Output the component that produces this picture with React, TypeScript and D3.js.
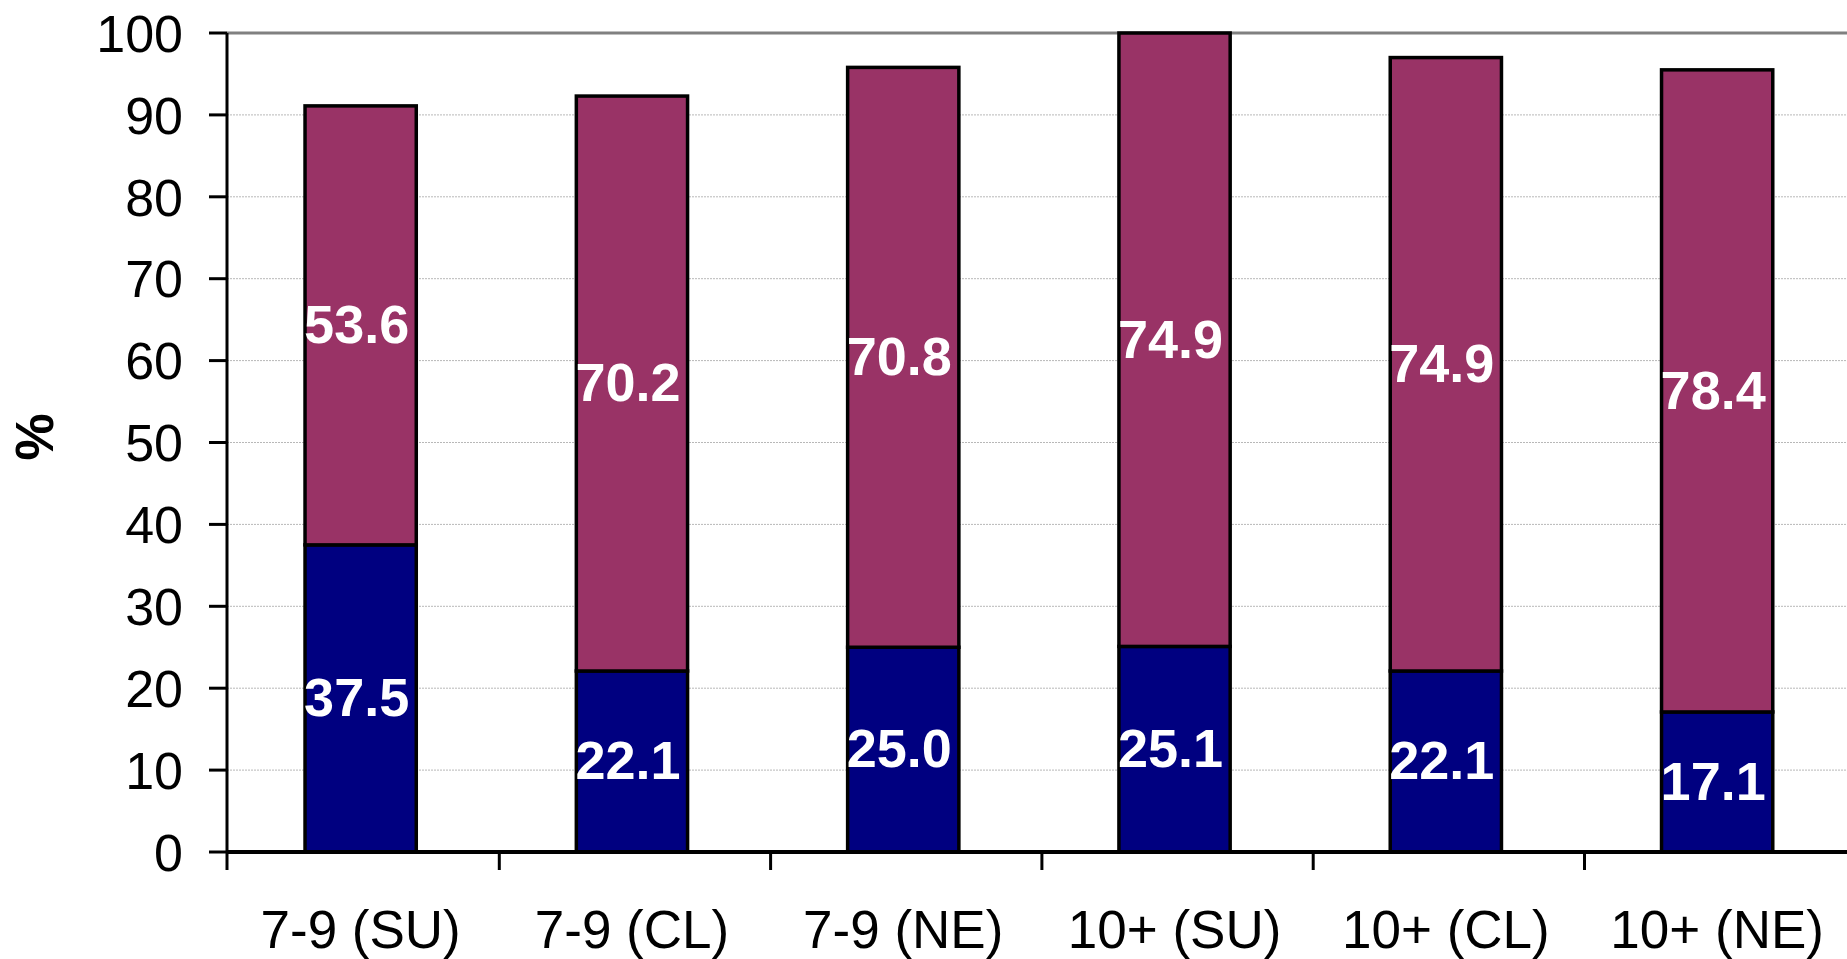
import React from "react";
import * as d3 from "d3";

const categories = ["7-9 (SU)", "7-9 (CL)", "7-9 (NE)", "10+ (SU)", "10+ (CL)", "10+ (NE)"];
const seriesBottom = [37.5, 22.1, 25.0, 25.1, 22.1, 17.1];
const seriesTop = [53.6, 70.2, 70.8, 74.9, 74.9, 78.4];
const yTicks = [0, 10, 20, 30, 40, 50, 60, 70, 80, 90, 100];
const yTitle = "%";

const W = 1847;
const H = 959;
const FONT = "'Liberation Sans', Arial, Helvetica, sans-serif";

export default function App() {
  const x = d3.scaleBand<string>().domain(categories).range([225, 225 + 6 * 271.3]).padding(0);
  const y = d3.scaleLinear().domain([0, 100]).range([852, 33]);
  const bw = x.bandwidth() * 0.41;
  const axisX = 227;

  const rows = categories.map((c, i) => ({
    c,
    b: seriesBottom[i],
    t: seriesTop[i],
  }));

  return (
    <svg
      width={W}
      height={H}
      style={{ position: "absolute", left: 0, top: 0, background: "#fff" }}
      fontFamily={FONT}
    >
      {/* gridlines */}
      {yTicks.filter((t) => t > 0 && t < 100).map((t) => (
        <line
          key={"g" + t}
          x1={axisX}
          x2={W}
          y1={y(t)}
          y2={y(t)}
          stroke="#b8b8b8"
          strokeWidth={1}
          strokeDasharray="2,1"
        />
      ))}
      <line x1={axisX} x2={W} y1={y(100)} y2={y(100)} stroke="#808080" strokeWidth={3} />

      {/* bars */}
      {rows.map((r) => {
        const cx = (x(r.c) as number) + x.bandwidth() / 2;
        return (
          <g key={r.c}>
            <rect
              x={cx - bw / 2}
              y={y(r.b)}
              width={bw}
              height={y(0) - y(r.b)}
              fill="#000080"
              stroke="#000"
              strokeWidth={3.5}
            />
            <rect
              x={cx - bw / 2}
              y={y(r.b + r.t)}
              width={bw}
              height={y(r.b) - y(r.b + r.t)}
              fill="#993366"
              stroke="#000"
              strokeWidth={3.5}
            />
            <text
              x={cx - 4}
              y={y(r.b / 2)}
              dy="0.33em"
              textAnchor="middle"
              fill="#fff"
              fontWeight="bold"
              fontSize={54}
            >
              {r.b.toFixed(1)}
            </text>
            <text
              x={cx - 4}
              y={y(r.b + r.t / 2)}
              dy="0.33em"
              textAnchor="middle"
              fill="#fff"
              fontWeight="bold"
              fontSize={54}
            >
              {r.t.toFixed(1)}
            </text>
          </g>
        );
      })}

      {/* y axis */}
      <line x1={axisX} x2={axisX} y1={y(100)} y2={y(0)} stroke="#000" strokeWidth={3} />
      {yTicks.map((t) => (
        <g key={"t" + t}>
          <line x1={209} x2={axisX} y1={y(t)} y2={y(t)} stroke="#000" strokeWidth={3} />
          <text x={183} y={y(t)} dy="0.36em" textAnchor="end" fontSize={52} fill="#000">
            {t}
          </text>
        </g>
      ))}

      {/* x axis */}
      <line x1={axisX - 1} x2={W} y1={y(0)} y2={y(0)} stroke="#000" strokeWidth={4} />
      {categories.map((c, i) => {
        const tx = i === 0 ? axisX : (x(c) as number) + 3;
        return (
          <line
            key={"xt" + c}
            x1={tx}
            x2={tx}
            y1={y(0)}
            y2={y(0) + 18}
            stroke="#000"
            strokeWidth={3}
          />
        );
      })}
      {categories.map((c) => (
        <text
          key={"xl" + c}
          x={(x(c) as number) + x.bandwidth() / 2}
          y={948}
          textAnchor="middle"
          fontSize={53}
          fill="#000"
        >
          {c}
        </text>
      ))}

      {/* y title */}
      <text
        transform={`translate(34,437) rotate(-90)`}
        dy="0.36em"
        textAnchor="middle"
        fontWeight="bold"
        fontSize={53}
        fill="#000"
      >
        {yTitle}
      </text>
    </svg>
  );
}
